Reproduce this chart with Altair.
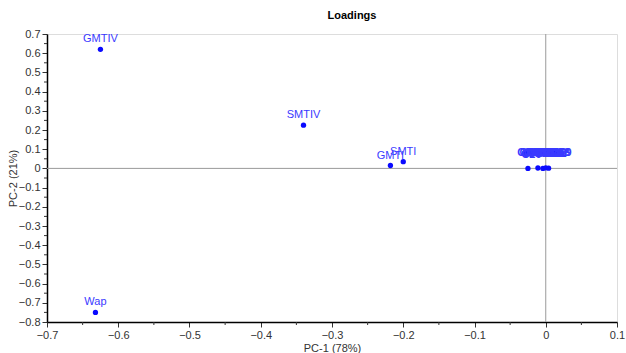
import altair as alt
import pandas as pd

names = ["GMTIV", "SMTIV", "GMTI", "SMTI", "Wap"]
pc1 = [-0.625, -0.34, -0.218, -0.200, -0.632]
pc2 = [0.62, 0.225, 0.015, 0.035, -0.75]

# dense cluster of small loadings near the origin (labels overlap into a solid band)
cl_names = ["C%d" % i for i in range(1, 23)]
cl_pc1 = [-0.030, -0.027, -0.024, -0.021, -0.018, -0.015, -0.012, -0.009, -0.006, -0.003,
          0.000, 0.003, 0.006, 0.009, 0.012, 0.015, 0.018, 0.020, 0.022, -0.020, 0.000, 0.015]
cl_pc2 = [0.078, 0.080, 0.077, 0.081, 0.079, 0.082, 0.078, 0.080, 0.081, 0.077,
          0.079, 0.082, 0.078, 0.080, 0.081, 0.079, 0.077, 0.080, 0.078, 0.072, 0.074, 0.073]
# small loadings lying on the PC-1 axis (labels hidden in the band above)
low_pc1 = [-0.025, -0.011, -0.004, 0.000, 0.004]
low_pc2 = [0.000, 0.002, 0.000, 0.003, 0.001]

main = pd.DataFrame({"name": names, "x": pc1, "y": pc2})
cluster = pd.DataFrame({"name": cl_names, "x": cl_pc1, "y": cl_pc2})
low = pd.DataFrame({"x": low_pc1, "y": low_pc2})

major_x = [-0.7, -0.6, -0.5, -0.4, -0.3, -0.2, -0.1, 0, 0.1]
minor_x = [-0.65, -0.55, -0.45, -0.35, -0.25, -0.15, -0.05, 0.05]
major_y = [0.7, 0.6, 0.5, 0.4, 0.3, 0.2, 0.1, 0, -0.1, -0.2, -0.3, -0.4, -0.5, -0.6, -0.7, -0.8]
minor_y = [0.65, 0.55, 0.45, 0.35, 0.25, 0.15, 0.05, -0.05, -0.15, -0.25, -0.35, -0.45,
           -0.55, -0.65, -0.75]

FONT = "Liberation Sans"
W, H = 570, 288
xs = alt.Scale(domain=[-0.7, 0.1], nice=False, zero=False)
ys = alt.Scale(domain=[-0.8, 0.7], nice=False, zero=False)

common = dict(grid=False, tickSize=5, labelFont=FONT, labelFontSize=11, labelColor="#333333",
              titleFont=FONT, titleFontSize=11, titleFontWeight="normal", titleColor="#333333",
              domainColor="#000000", domainWidth=1.5, tickColor="#333333",
              labelOverlap=False, labelFlush=False, labelBound=False,
              labelExpr="datum.value == 0 ? '0' : format(datum.value, '.1f')")
xaxis = alt.Axis(values=major_x, title="PC-1 (78%)", titlePadding=2, **common)
yaxis = alt.Axis(values=major_y, title="PC-2 (21%)", titlePadding=0, **common)


def X(f):
    return alt.X(f, type="quantitative", scale=xs, axis=xaxis)


def Y(f):
    return alt.Y(f, type="quantitative", scale=ys, axis=yaxis)


vrule = alt.Chart(pd.DataFrame({"v": [0]})).mark_rule(color="#9a9a9a", strokeWidth=1).encode(
    x=X("v"))
hrule = alt.Chart(pd.DataFrame({"v": [0]})).mark_rule(color="#9a9a9a", strokeWidth=1).encode(
    y=Y("v"))

minor_xt = alt.Chart(pd.DataFrame({"v": minor_x})).mark_rule(color="#333333", clip=False).encode(
    x=X("v"), y=alt.value(H), y2=alt.value(H + 3))
minor_yt = alt.Chart(pd.DataFrame({"v": minor_y})).mark_rule(color="#333333", clip=False).encode(
    y=Y("v"), x=alt.value(0), x2=alt.value(-3))

enc = dict(x=X("x"), y=Y("y"))
points = alt.Chart(main).mark_circle(size=28, color="#0a0aff", opacity=1).encode(**enc)
low_points = alt.Chart(low).mark_circle(size=28, color="#0a0aff", opacity=1).encode(**enc)
cl_points = alt.Chart(cluster).mark_circle(size=28, color="#0a0aff", opacity=1).encode(**enc)
labels = alt.Chart(main).mark_text(dy=-10, font=FONT, fontSize=11, color="#3a3aff").encode(
    text="name:N", **enc)
cl_labels = alt.Chart(cluster).mark_text(dy=0, font=FONT, fontSize=11, color="#3a3aff",
                                         fontWeight="bold").encode(text="name:N", **enc)

chart = alt.layer(vrule, hrule, minor_xt, minor_yt, points, low_points, cl_points,
                  labels, cl_labels).properties(
    width=W, height=H,
    title=alt.TitleParams("Loadings", font=FONT, fontSize=11, fontWeight="bold",
                          color="#000000", anchor="middle", offset=7, dx=20),
    autosize=alt.AutoSizeParams(type="none"),
    padding={"left": 47, "top": 34, "right": 9, "bottom": 31},
).configure_view(stroke=None).configure(background="white")

chart.save("out.html", embed_options={"renderer": "svg", "actions": False})
